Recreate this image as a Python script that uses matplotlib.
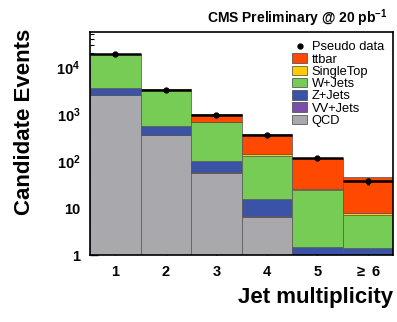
import numpy as np
import matplotlib
matplotlib.use("Agg")
import matplotlib.pyplot as plt
from matplotlib.patches import Patch
from matplotlib.lines import Line2D

plt.rcParams['font.family'] = ['Liberation Sans', 'DejaVu Sans']
plt.rcParams['mathtext.fontset'] = 'custom'
plt.rcParams['mathtext.rm'] = 'Liberation Sans:bold'
plt.rcParams['mathtext.bf'] = 'Liberation Sans:bold'
plt.rcParams['mathtext.it'] = 'Liberation Sans:bold'

# ---- data ----
jets = [1, 2, 3, 4, 5, 6]
jet_labels = ["1", "2", "3", "4", "5", r"$\geq$ 6"]
qcd = [2500, 360, 56, 6.3, 0.3, 0.3]
vv = [20, 5, 2, 0.5, 0.05, 0.03]
zjets = [1080, 195, 42, 8.5, 1.15, 1.1]
wjets = [15400, 2740, 560, 115, 22.5, 5.6]
singletop = [20, 15, 10, 10, 2.0, 0.7]
ttbar = [60, 60, 340, 230, 90, 38]
data = [19000, 3300, 950, 360, 115, 37]

processes = [
    ("QCD", qcd, "#a9a9ad"),
    ("VV+Jets", vv, "#7a4fa8"),
    ("Z+Jets", zjets, "#3a53a6"),
    ("W+Jets", wjets, "#77cc55"),
    ("SingleTop", singletop, "#ffcc00"),
    ("ttbar", ttbar, "#ff4800"),
]

fig = plt.figure(figsize=(3.97, 3.22), dpi=100)
ax = fig.add_axes([0.227, 0.208, 0.763, 0.692])

x = np.array(jets, dtype=float)
bottom = np.zeros(len(x))
for name, vals, col in processes:
    v = np.array(vals, dtype=float)
    ax.bar(x, v, width=1.0, bottom=bottom, color=col, edgecolor='#555555',
           linewidth=0.5, log=True, zorder=2)
    bottom = bottom + v

d = np.array(data, dtype=float)
ax.errorbar(x, d, xerr=0.5, yerr=np.sqrt(d), fmt='o', color='black',
            markersize=3.5, elinewidth=1.8, capsize=0, zorder=5)

ax.set_yscale('log')
ax.set_xlim(0.5, 6.5)
ax.set_ylim(1, 55000)
ax.set_xticks(jets)
ax.set_xticklabels(jet_labels)
ax.set_yticks([1, 10, 100, 1000, 10000])
ax.set_yticklabels(["1", "10", r"$10^{2}$", r"$10^{3}$", r"$10^{4}$"])
ax.tick_params(axis='both', which='major', direction='in', length=6, width=1,
               labelsize=10.5, pad=7)
ax.tick_params(axis='y', which='minor', direction='in', length=3, width=0.8)
ax.tick_params(axis='x', which='minor', bottom=False)
for lbl in ax.get_xticklabels() + ax.get_yticklabels():
    lbl.set_fontweight('bold')
for s in ax.spines.values():
    s.set_linewidth(1.2)

fig.text(25 / 397, 1 - 122 / 322, "Candidate Events", rotation=90, ha='center',
         va='center', fontsize=16, fontweight='bold')
fig.text(393 / 397, 1 - 297 / 322, "Jet multiplicity", ha='right', va='center',
         fontsize=16, fontweight='bold')

fig.text(388 / 397, 1 - 23 / 322, r"CMS Preliminary @ 20 pb$^{-1}$", ha='right',
         va='baseline', fontsize=10, fontweight='bold')

handles = [Line2D([], [], marker='o', color='black', linestyle='none', markersize=3.5)]
labels = ["Pseudo data"]
order = ["ttbar", "SingleTop", "W+Jets", "Z+Jets", "VV+Jets", "QCD"]
cmap = {n: c for n, _, c in processes}
for n in order:
    handles.append(Patch(facecolor=cmap[n], edgecolor='#444444', linewidth=0.5))
    labels.append(n)
ax.legend(handles, labels, loc='upper right', frameon=False, fontsize=9.3,
          labelspacing=0.0, handlelength=1.15, handleheight=0.75, handletextpad=0.35,
          borderaxespad=0.3, bbox_to_anchor=(1.0, 1.0))

fig.savefig("out.png", dpi=100)
